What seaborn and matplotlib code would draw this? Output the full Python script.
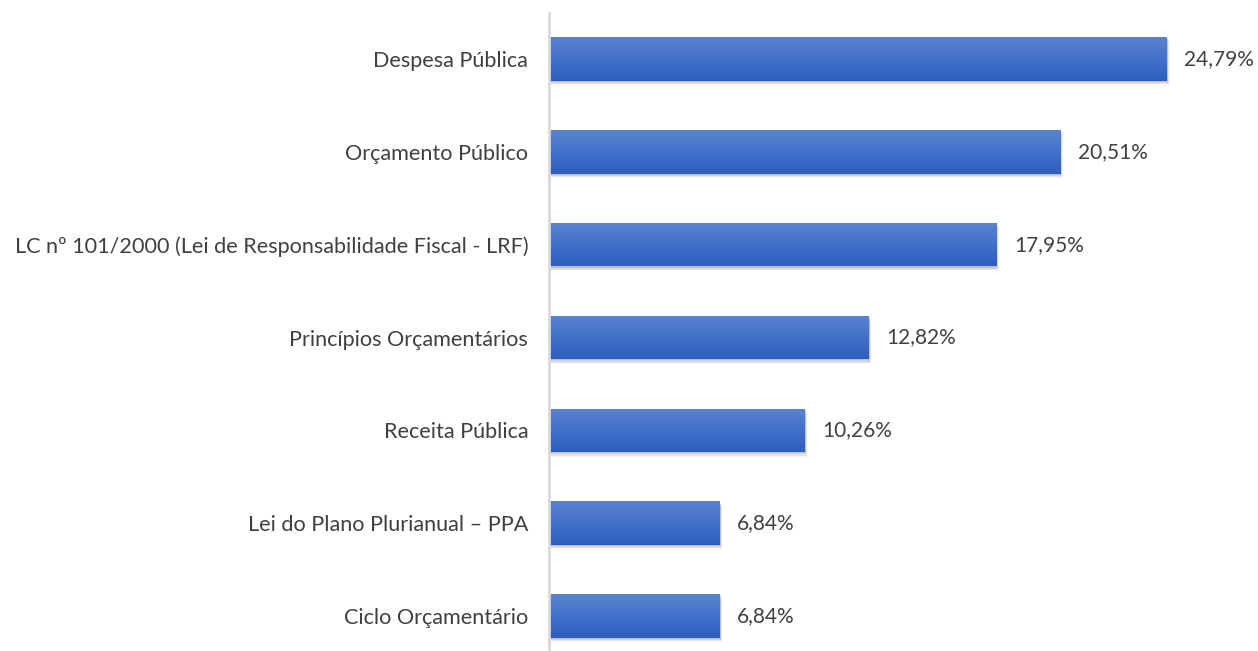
import numpy as np
import pandas as pd
import matplotlib
matplotlib.use('Agg')
import matplotlib.pyplot as plt
import seaborn as sns
from matplotlib.colors import LinearSegmentedColormap

# dados do gráfico
categorias = [
    'Despesa Pública',
    'Orçamento Público',
    'LC nº 101/2000 (Lei de Responsabilidade Fiscal - LRF)',
    'Princípios Orçamentários',
    'Receita Pública',
    'Lei do Plano Plurianual – PPA',
    'Ciclo Orçamentário',
]
percentuais = [24.79, 20.51, 17.95, 12.82, 10.26, 6.84, 6.84]
rotulos = ['24,79%', '20,51%', '17,95%', '12,82%', '10,26%', '6,84%', '6,84%']

df = pd.DataFrame({'categoria': categorias, 'valor': percentuais})

sns.set_theme(style='white')
plt.rcParams['font.family'] = ['Lato', 'DejaVu Sans']

fig = plt.figure(figsize=(12.58, 6.51), dpi=100)
ax = fig.add_axes([549 / 1258, -11.5 / 651, 700 / 1258, 650 / 651])

sns.barplot(data=df, x='valor', y='categoria', orient='h', color='#3f6fc8',
            width=0.47, ax=ax, zorder=3)

ax.set_xlim(0, 28.08)
ax.set_ylim(6.5, -0.5)

# gradiente vertical e sombra nas barras
cmap = LinearSegmentedColormap.from_list('azul', ['#5b84cf', '#4171ca', '#2d5ebe'])
grad = np.linspace(0, 1, 256).reshape(-1, 1)
for p in ax.patches:
    x0, y0 = p.get_x(), p.get_y()
    w, h = p.get_width(), p.get_height()
    # sombra: algumas camadas translúcidas deslocadas para baixo
    for k, a in enumerate([0.10, 0.08, 0.06, 0.04]):
        off = 0.012 + k * 0.012
        sh = plt.Rectangle((x0 + 0.02, y0 + off), w + 0.02 * (k + 1), h,
                           color='black', alpha=a, lw=0, zorder=1)
        ax.add_patch(sh)
    im = ax.imshow(grad, cmap=cmap, aspect='auto',
                   extent=[x0, x0 + w, y0 + h, y0], zorder=4)
    im.set_clip_path(p)
    p.set_edgecolor('none')

for i, (v, t) in enumerate(zip(percentuais, rotulos)):
    ax.text(v + 0.7, i, t, va='center', ha='left', fontsize=15, color='#404040')

ax.set_xlabel('')
ax.set_ylabel('')
ax.set_xticks([])
ax.tick_params(axis='y', length=0, pad=15, labelsize=15.6, labelcolor='#404040')
for s in ['top', 'right', 'bottom']:
    ax.spines[s].set_visible(False)
ax.spines['left'].set_color('#d9d9d9')
ax.spines['left'].set_linewidth(2)
ax.spines['left'].set_zorder(5)

fig.savefig('out.png', dpi=100)
